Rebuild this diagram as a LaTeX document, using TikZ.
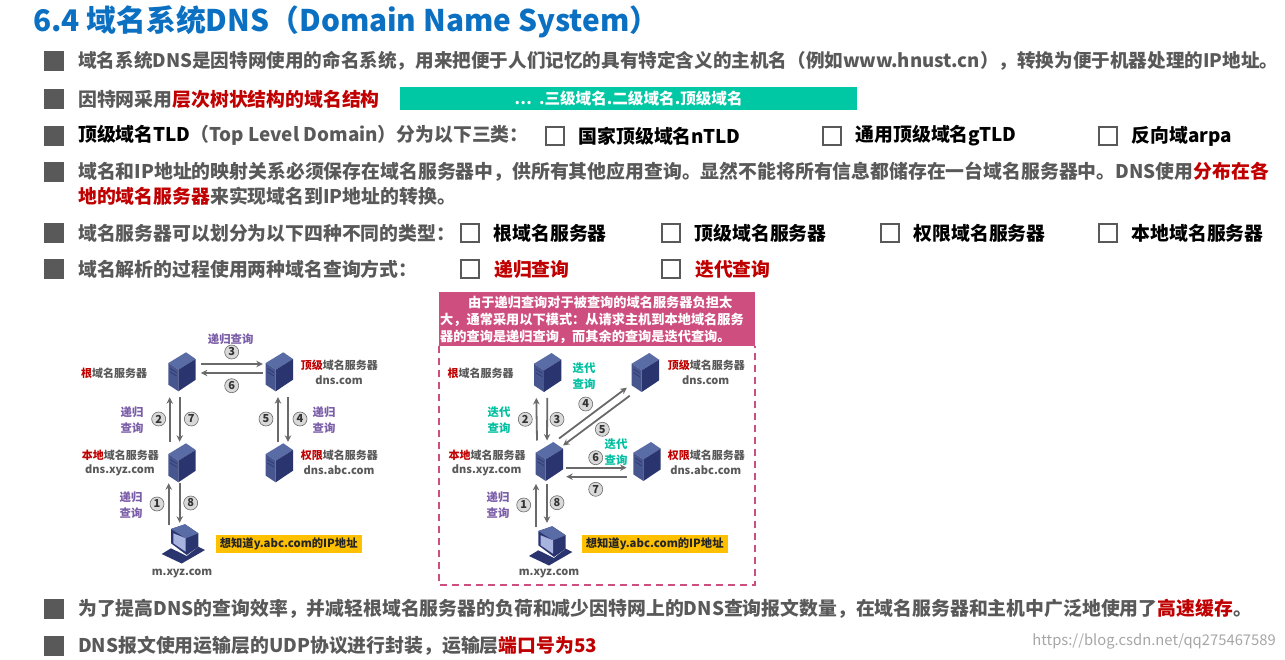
\documentclass[tikz,border=0pt]{standalone}
\usepackage{fontspec}
\usetikzlibrary{arrows.meta}
\setmainfont{Noto Sans CJK SC}
\newcommand{\fs}[1]{\fontsize{#1}{#1}\selectfont}
\newcommand{\fsl}[2]{\fontsize{#1}{#2}\selectfont}
\definecolor{txtgray}{HTML}{595959}
\definecolor{titleblue}{HTML}{0B70C1}
\definecolor{keyred}{HTML}{C00000}
\definecolor{barteal}{HTML}{00C8A5}
\definecolor{qpurple}{HTML}{7B5EA8}
\definecolor{qteal}{HTML}{00BFA0}
\definecolor{notepink}{HTML}{CE4F7F}
\definecolor{noteyellow}{HTML}{FFC000}
\definecolor{arrowgray}{HTML}{6A6A6A}
\definecolor{srvtop}{HTML}{5A6CA6}
\definecolor{srvleft}{HTML}{47568F}
\definecolor{srvright}{HTML}{2A3570}
\definecolor{srvscreen}{HTML}{A9B3E0}
\newcommand{\kw}[1]{\textcolor{keyred}{#1}}
\tikzset{
	bigline/.style={anchor=west,inner sep=0,font=\bfseries\fs{18.85},text=txtgray},
	blackline/.style={bigline,text=black},
	bullet/.style={fill=txtgray,minimum size=20,inner sep=0},
	tick/.style={draw=txtgray,line width=2.2,minimum size=18.5,inner sep=0},
	srvnode/.style={minimum width=28,minimum height=42,inner sep=0},
	pcnode/.style={minimum width=40,minimum height=36,inner sep=0},
	numcirc/.style={circle,draw=arrowgray,fill=black!15,line width=.6,minimum size=14,inner sep=0,font=\bfseries\fs{11},text=black!80},
	link/.style={draw=arrowgray,line width=1.8,-{Stealth[length=6.5,width=6.5]}},
	srvlabel/.style={inner sep=0,font=\bfseries\fs{11},text=txtgray},
	srvwest/.style={srvlabel,anchor=west},
	qlabel/.style={inner sep=0,align=center,font=\bfseries\fsl{11.4}{16}},
	yellowbox/.style={fill=noteyellow,minimum width=146,minimum height=17.5,inner sep=0,font=\bfseries\fs{11.3},text=black!85},
	srv/.pic={
		\fill[srvtop] (-13.3,-9) -- (4.3,-19.7) -- (14,-13) -- (-3.3,-2.3) -- cycle;
		\fill[srvleft] (-13.3,-9) -- (-3.3,-2.3) -- (-3.3,19.3) -- (-13.3,12.7) -- cycle;
		\fill[srvright] (-3.3,-2.3) -- (14,-13) -- (14,7.7) -- (-3.3,19.3) -- cycle;
		\draw[srvright,line width=.6] (-11.5,-3.5) -- (-5,.5) (-11.5,0) -- (-5,4);
	},
	pcbox/.pic={
		\fill[srvright] (-20,11) -- (-10.7,5.3) -- (5,13) -- (16.7,3.7) -- (23.3,7) -- (0,20.5) -- cycle;
		\fill[srvright] (-10.7,-14) -- (3.3,-18.7) -- (16.7,-9.7) -- (16.7,3.7) -- (5,12) -- (-10.7,.3) -- cycle;
		\fill[srvtop] (-10.7,-14) -- (3.3,-18.7) -- (16.7,-9.7) -- (4,-4.7) -- cycle;
		\fill[srvscreen] (-8.3,-9.7) -- (4,-4.7) -- (4,8.7) -- (-8.3,.3) -- cycle;
	},
}
\begin{document}
\begin{tikzpicture}[x=1pt,y=-1pt]
	\useasboundingbox (0,0) rectangle (1285,660);
	%title
	\node[anchor=west,inner sep=0,font=\bfseries\fs{29.8},text=titleblue] (title) at (33,22) {6.4 域名系统DNS（Domain Name System）};
	%bullets
	\foreach \y in {61,99,136,172,233,269,609,646}{
		\node[bullet] (bul\y) at (54,\y) {};
	}
	%text lines
	\node[bigline,font=\bfseries\fs{18.6}] (lineA) at (78,61) {域名系统DNS是因特网使用的命名系统，用来把便于人们记忆的具有特定含义的主机名（例如www.hnust.cn），转换为便于机器处理的IP地址。};
	\node[bigline] (lineB) at (78,99) {因特网采用\kw{层次树状结构的域名结构}};
	\node[fill=barteal,minimum width=457,minimum height=23,inner sep=0,text=white,font=\bfseries\fs{15.6}] (bar) at (628.5,98.5) {⋯\ \ .三级域名.二级域名.顶级域名\hspace{49pt}};
	\node[bigline] (lineC) at (78,135) {\textcolor{black}{顶级域名TLD}（Top Level Domain）分为以下三类：};
	\node[bigline] (lineD) at (78,172) {域名和IP地址的映射关系必须保存在域名服务器中，供所有其他应用查询。显然不能将所有信息都储存在一台域名服务器中。DNS使用\kw{分布在各}};
	\node[bigline] (lineDb) at (78,196) {\kw{地的域名服务器}来实现域名到IP地址的转换。};
	\node[bigline] (lineE) at (78,233) {域名服务器可以划分为以下四种不同的类型：};
	\node[bigline] (lineF) at (78,269) {域名解析的过程使用两种域名查询方式：};
	\node[bigline] (lineG) at (78,609) {为了提高DNS的查询效率，并减轻根域名服务器的负荷和减少因特网上的DNS查询报文数量，在域名服务器和主机中广泛地使用了\kw{高速缓存}。};
	\node[bigline] (lineH) at (78,646) {DNS报文使用运输层的UDP协议进行封装，运输层\kw{端口号为53}};
	%check boxes
	\foreach \name/\x/\y/\t in {cA/555/136/国家顶级域名nTLD,cB/832/136/通用顶级域名gTLD,cC/1108/136/反向域arpa,
		dA/470/233/根域名服务器,dB/671/233/顶级域名服务器,dC/890/233/权限域名服务器,dD/1108/233/本地域名服务器}{
		\node[tick] (\name) at (\x,\y) {};
		\node[blackline] (\name txt) at (\x+23.5,\y) {\t};
	}
	\node[tick] (eA) at (470,269) {};
	\node[bigline] (eAtxt) at (494,269) {\kw{递归查询}};
	\node[tick] (eB) at (671,269) {};
	\node[bigline] (eBtxt) at (695,269) {\kw{迭代查询}};
	%left diagram
	\foreach \name/\x/\y in {rootL/181.7/372,topL/279/372,localL/181.7/463,authL/279/463,rootR/547.3/372.7,topR/645/372.7,localR/549/461.7,authR/646.7/461.7}{
		\node[srvnode] (\name) at (\x,\y) {};
		\pic at (\name) {srv};
	}
	\foreach \name/\x/\y in {hostL/181.7/543,hostR/549/545}{
		\node[pcnode] (\name) at (\x,\y) {};
		\pic at (\name) {pcbox};
	}
	\draw[link] ([shift={(-12,0)}]localL.north) -- ([shift={(-12,4)}]rootL.south);
	\draw[link] ([shift={(-2,4)}]rootL.south) -- ([shift={(-2,0)}]localL.north);
	\draw[link] ([shift={(5,-8)}]rootL.east) -- ([shift={(-2,-8)}]topL.west);
	\draw[link] ([shift={(-2,1)}]topL.west) -- ([shift={(5,1)}]rootL.east);
	\draw[link] ([shift={(9,4)}]topL.south) -- ([shift={(9,0)}]authL.north);
	\draw[link] ([shift={(-1,0)}]authL.north) -- ([shift={(-1,4)}]topL.south);
	\draw[link] ([shift={(-13,0)}]hostL.north) -- ([shift={(-13,-1)}]localL.south);
	\draw[link] ([shift={(-2,-1)}]localL.south) -- ([shift={(-2,-2)}]hostL.north);
	%circled numbers
	\foreach \name/\x/\y/\t in {nA/157/504/1,nB/158.7/419/2,nC/231.7/352/3,nD/300/419/4,nE/266/419/5,nF/231.7/385.7/6,nG/191.3/419/7,nH/190.7/503/8,
		mA/523.7/505/1,mB/525.3/419.3/2,mC/557/419.3/3,mD/585.7/404/4,mE/602.3/429.3/5,mF/595.7/457.7/6,mG/595.7/489.3/7,mH/557/502.7/8}{
		\node[numcirc] (\name) at (\x,\y) {\t};
	}
	%left labels
	\node[qlabel,text=qpurple] (qA) at (230.7,339) {递归查询};
	\node[qlabel,text=qpurple] (qB) at (132,420) {递归\\查询};
	\node[qlabel,text=qpurple] (qC) at (324,420) {递归\\查询};
	\node[qlabel,text=qpurple] (qD) at (131,505) {递归\\查询};
	\node[srvwest] (lbRootL) at (81,373) {\kw{根}域名服务器};
	\node[srvwest] (lbTopL) at (300.7,365.7) {\kw{顶级}域名服务器};
	\node[srvlabel] (dnTopL) at (339,380) {dns.com};
	\node[srvwest] (lbLocalL) at (81.7,455) {\kw{本地}域名服务器};
	\node[srvlabel] (dnLocalL) at (120,470) {dns.xyz.com};
	\node[srvwest] (lbAuthL) at (300.7,455) {\kw{权限}域名服务器};
	\node[srvlabel] (dnAuthL) at (339,470) {dns.abc.com};
	\node[srvlabel] (dnHostL) at (182,573) {m.xyz.com};
	\node[yellowbox] (wantL) at (288.7,544) {想知道y.abc.com的IP地址};
	%right diagram
	\draw[notepink,line width=1.5,dash pattern=on 7pt off 5pt] (439,345.7) -- (439,585) -- (755,585) -- (755,345.7);
	\node[fill=notepink,anchor=north west,minimum width=316,minimum height=54,inner sep=0] (noteBox) at (439,291.7) {};
	\node[anchor=west,inner sep=0,align=left,text=white,font=\bfseries\fsl{13.2}{16.8}] (noteTxt) at (440,320) {\hspace{28pt}由于递归查询对于被查询的域名服务器负担太\\大，通常采用以下模式：从请求主机到本地域名服务\\器的查询是递归查询，而其余的查询是迭代查询。};
	\draw[link] ([shift={(-12,0)}]localR.north) -- ([shift={(-11,4)}]rootR.south);
	\draw[link] ([shift={(0,4)}]rootR.south) -- ([shift={(-2,0)}]localR.north);
	\draw[link] ([shift={(10,-2)}]localR.north) -- ([shift={(-4,15)}]topR.west);
	\draw[link] ([shift={(-1,23)}]topR.west) -- ([shift={(14,5)}]localR.north);
	\draw[link] ([shift={(3,6)}]localR.east) -- ([shift={(-6,6)}]authR.west);
	\draw[link] ([shift={(-6,15)}]authR.west) -- ([shift={(3,15)}]localR.east);
	\draw[link] ([shift={(-13,0)}]hostR.north) -- ([shift={(-13,1)}]localR.south);
	\draw[link] ([shift={(-2,1)}]localR.south) -- ([shift={(-2,-4)}]hostR.north);
	\node[qlabel,text=qteal] (qE) at (584,376) {迭代\\查询};
	\node[qlabel,text=qteal] (qF) at (499,420) {迭代\\查询};
	\node[qlabel,text=qteal] (qG) at (616,452.3) {迭代\\查询};
	\node[qlabel,text=qpurple] (qH) at (498,505) {递归\\查询};
	\node[srvwest] (lbRootR) at (447.3,373.3) {\kw{根}域名服务器};
	\node[srvwest] (lbTopR) at (667.7,365) {\kw{顶级}域名服务器};
	\node[srvlabel] (dnTopR) at (705.7,380) {dns.com};
	\node[srvwest] (lbLocalR) at (448.3,455.7) {\kw{本地}域名服务器};
	\node[srvlabel] (dnLocalR) at (486.7,470) {dns.xyz.com};
	\node[srvwest] (lbAuthR) at (667.7,455.7) {\kw{权限}域名服务器};
	\node[srvlabel] (dnAuthR) at (705.7,470) {dns.abc.com};
	\node[srvlabel] (dnHostR) at (549,573) {m.xyz.com};
	\node[yellowbox] (wantR) at (654.7,544) {想知道y.abc.com的IP地址};
	%blog address
	\node[anchor=east,inner sep=0,text=black!35,font=\fs{14.8}] (blogurl) at (1276,641) {https://blog.csdn.net/qq275467589};
\end{tikzpicture}
\end{document}
